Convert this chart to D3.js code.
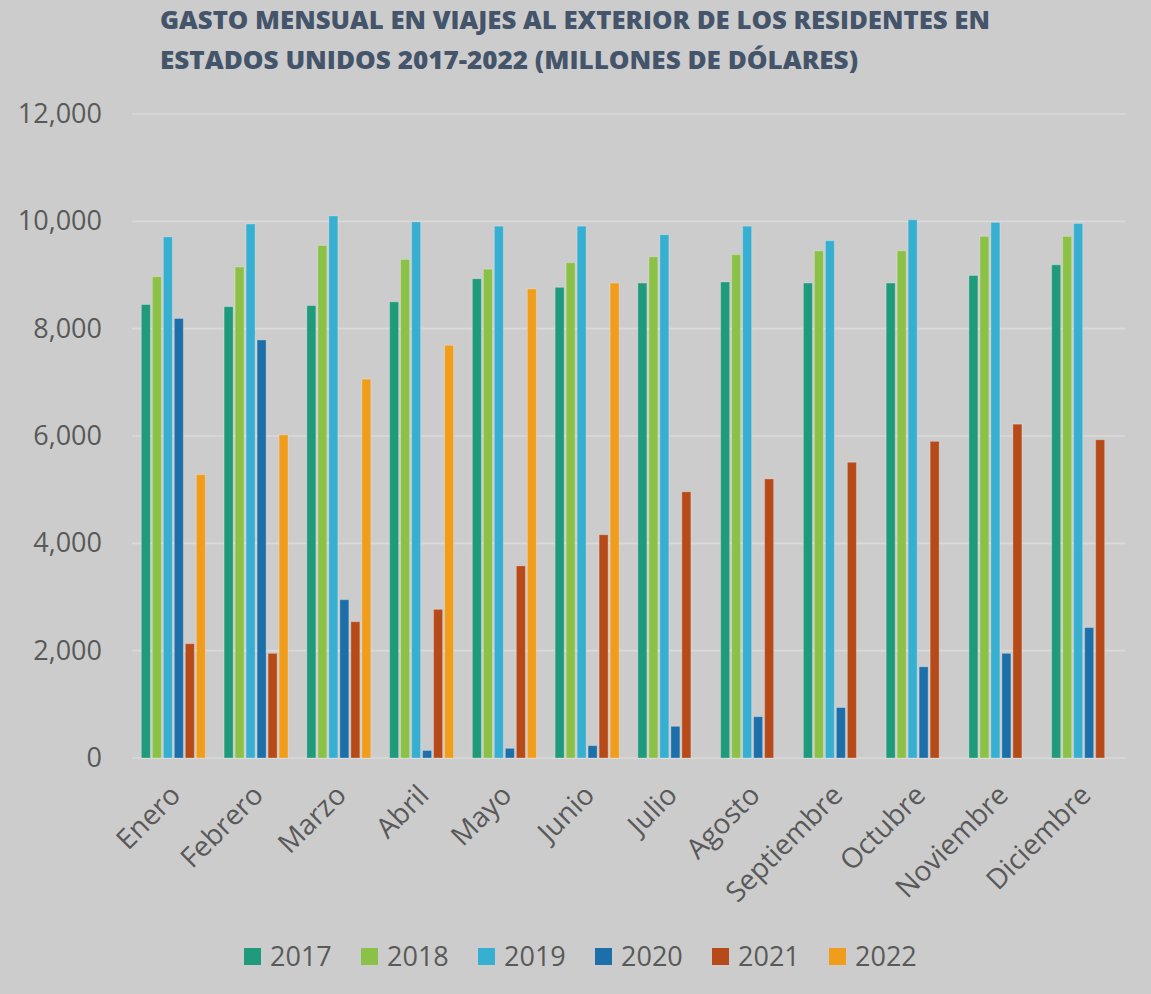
<!DOCTYPE html>
<html>
<head>
<meta charset="utf-8">
<script src="https://cdn.jsdelivr.net/npm/d3@7"></script>
<style>
  html, body { margin: 0; padding: 0; background: #cccccc; }
  svg { display: block; }
</style>
</head>
<body>
<svg id="chart" width="1151" height="994"></svg>
<script>
const months = ["Enero","Febrero","Marzo","Abril","Mayo","Junio","Julio","Agosto","Septiembre","Octubre","Noviembre","Diciembre"];
const years = ["2017","2018","2019","2020","2021","2022"];
const v2017 = [8450, 8410, 8430, 8500, 8930, 8770, 8850, 8870, 8850, 8850, 8990, 9190];
const v2018 = [8970, 9150, 9550, 9290, 9110, 9230, 9340, 9380, 9450, 9450, 9720, 9720];
const v2019 = [9710, 9950, 10100, 9990, 9910, 9910, 9750, 9910, 9640, 10030, 9980, 9960];
const v2020 = [8190, 7790, 2950, 140, 180, 230, 590, 770, 940, 1700, 1950, 2430];
const v2021 = [2130, 1950, 2540, 2770, 3580, 4160, 4960, 5200, 5510, 5900, 6220, 5930];
const v2022 = [5280, 6020, 7060, 7690, 8740, 8850, null, null, null, null, null, null];
const yTicks = [0, 2000, 4000, 6000, 8000, 10000, 12000];
const colors = ["#1f9a7a", "#8bc147", "#37afd1", "#1d6fa9", "#b74a19", "#f19d1c"];
const titleLines = ["GASTO MENSUAL EN VIAJES AL EXTERIOR DE LOS RESIDENTES EN",
                    "ESTADOS UNIDOS 2017-2022 (MILLONES DE DÓLARES)"];

const seriesVals = [v2017, v2018, v2019, v2020, v2021, v2022];
const svg = d3.select("#chart");
const font = "'Open Sans', 'Noto Sans', sans-serif";

// title
svg.append("g").selectAll("text").data(titleLines).join("text")
  .attr("x", 160).attr("y", (d, i) => 29 + i * 40)
  .attr("fill", "#44546a").attr("font-family", font).attr("font-weight", 800)
  .attr("font-size", 24)
  .attr("textLength", (d, i) => i === 0 ? 830 : 698).attr("lengthAdjust", "spacingAndGlyphs")
  .text(d => d);

const x0 = d3.scaleBand().domain(months).range([132, 1125]).paddingInner(0.227).paddingOuter(0.113);
const x1 = d3.scaleBand().domain(years).range([0, x0.bandwidth()]).paddingInner(0.182).paddingOuter(0);
const y = d3.scaleLinear().domain([0, 12000]).range([758, 114]);

// grid
svg.append("g").selectAll("line").data(yTicks).join("line")
  .attr("x1", 132).attr("x2", 1125)
  .attr("y1", d => y(d)).attr("y2", d => y(d))
  .attr("stroke", "#dadada").attr("stroke-width", 1.6);

// y axis
const yAxis = d3.axisLeft(y).tickValues(yTicks).tickFormat(d3.format(",")).tickSize(0).tickPadding(0);
const gy = svg.append("g").attr("transform", "translate(102,0)").call(yAxis);
gy.select(".domain").remove();
gy.selectAll("text").attr("fill", "#595959").attr("font-family", font).attr("font-size", 27);

// bars
const groups = svg.append("g").selectAll("g").data(months).join("g")
  .attr("transform", d => `translate(${x0(d)},0)`);
groups.selectAll("rect")
  .data((m, mi) => years.map((yr, si) => ({ yr, si, v: seriesVals[si][mi] })).filter(d => d.v != null))
  .join("rect")
  .attr("x", d => x1(d.yr))
  .attr("width", x1.bandwidth())
  .attr("y", d => y(d.v))
  .attr("height", d => y(0) - y(d.v))
  .attr("fill", d => colors[d.si])
  .attr("stroke", "rgba(255,255,255,0.25)").attr("stroke-width", 1);

// x axis labels
const xAxis = d3.axisBottom(x0).tickSize(0).tickPadding(0);
const gx = svg.append("g").attr("transform", "translate(0,790)").call(xAxis);
gx.select(".domain").remove();
gx.selectAll("text")
  .attr("fill", "#595959").attr("font-family", font).attr("font-size", 28)
  .attr("text-anchor", "end").attr("dy", "0.35em")
  .attr("transform", "translate(2,0) rotate(-45)");

// legend
const leg = svg.append("g").selectAll("g").data(years).join("g")
  .attr("transform", (d, i) => `translate(${244 + i * 117},957)`);
leg.append("rect").attr("x", 0).attr("y", -9).attr("width", 17).attr("height", 17)
  .attr("fill", (d, i) => colors[i]);
leg.append("text").attr("x", 26).attr("y", 0).attr("dy", "0.35em")
  .attr("fill", "#595959").attr("font-family", font).attr("font-size", 27)
  .text(d => d);
</script>
</body>
</html>
